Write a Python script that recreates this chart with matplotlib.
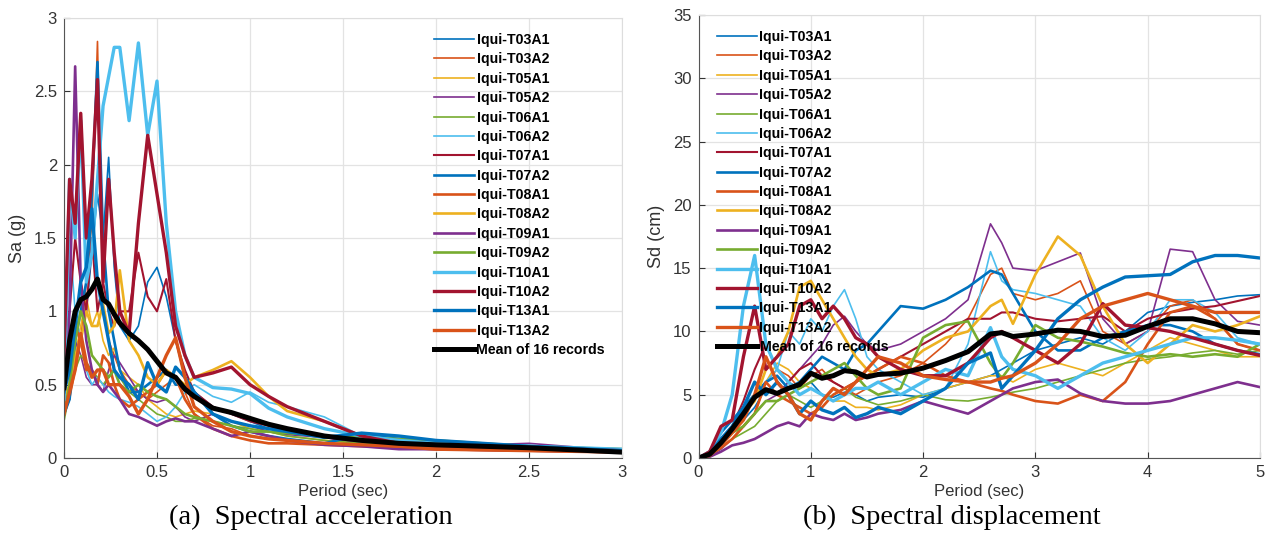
import numpy as np
import matplotlib
matplotlib.use("Agg")
import matplotlib.pyplot as plt

# names of the 16 records
records = ["Iqui-T03A1", "Iqui-T03A2", "Iqui-T05A1", "Iqui-T05A2", "Iqui-T06A1", "Iqui-T06A2",
           "Iqui-T07A1", "Iqui-T07A2", "Iqui-T08A1", "Iqui-T08A2", "Iqui-T09A1", "Iqui-T09A2",
           "Iqui-T10A1", "Iqui-T10A2", "Iqui-T13A1", "Iqui-T13A2"]

# ---- spectral acceleration (g) ----
T_sa = [0, .03, .06, .09, .12, .15, .18, .21, .24, .27, .30, .35, .40, .45, .50, .55, .60, .65, .70,
        .80, .90, 1.0, 1.1, 1.2, 1.4, 1.6, 1.8, 2.0, 2.5, 3.0]

sa_T03A1 = [0.35, 0.5, 0.9, 1.2, 1.0, 1.4, 1.8, 1.5, 2.05, 1.3, 0.9, 0.8, 0.9, 1.2, 1.3, 1.1, 0.8, 0.55, 0.45,
            0.35, 0.3, 0.25, 0.2, 0.18, 0.15, 0.16, 0.13, 0.11, 0.08, 0.05]
sa_T03A2 = [0.3, 0.4, 0.6, 0.8, 1.2, 1.6, 2.84, 1.0, 0.8, 0.7, 0.6, 0.5, 0.45, 0.4, 0.45, 0.5, 0.55, 0.45, 0.3,
            0.22, 0.2, 0.15, 0.13, 0.12, 0.1, 0.09, 0.08, 0.07, 0.06, 0.05]
sa_T05A1 = [0.4, 0.5, 0.7, 0.9, 1.1, 0.9, 1.0, 0.8, 0.7, 0.75, 0.6, 0.55, 0.5, 0.4, 0.35, 0.3, 0.28, 0.3, 0.32,
            0.3, 0.25, 0.2, 0.18, 0.15, 0.12, 0.1, 0.09, 0.08, 0.06, 0.05]
sa_T05A2 = [0.3, 0.45, 0.8, 0.7, 0.55, 0.5, 0.5, 0.45, 0.6, 0.7, 0.65, 0.55, 0.45, 0.4, 0.38, 0.4, 0.35, 0.28, 0.25,
            0.3, 0.25, 0.22, 0.18, 0.16, 0.14, 0.1, 0.09, 0.08, 0.1, 0.05]
sa_T06A1 = [0.25, 0.45, 0.6, 0.7, 0.65, 0.6, 0.55, 0.5, 0.55, 0.6, 0.55, 0.45, 0.4, 0.35, 0.3, 0.28, 0.25, 0.25, 0.27,
            0.25, 0.22, 0.2, 0.18, 0.15, 0.12, 0.1, 0.09, 0.08, 0.06, 0.05]
sa_T06A2 = [0.35, 1.5, 1.0, 0.8, 0.6, 0.5, 0.55, 0.5, 0.45, 0.42, 0.4, 0.38, 0.35, 0.3, 0.25, 0.28, 0.35, 0.45, 0.5,
            0.42, 0.38, 0.45, 0.38, 0.35, 0.28, 0.15, 0.12, 0.1, 0.07, 0.05]
sa_T07A1 = [0.8, 1.0, 1.5, 1.2, 1.0, 1.5, 1.0, 1.2, 1.0, 0.9, 1.0, 1.0, 1.4, 1.1, 1.0, 1.22, 0.8, 0.6, 0.45,
            0.35, 0.3, 0.25, 0.22, 0.18, 0.14, 0.12, 0.1, 0.08, 0.06, 0.05]
sa_T07A2 = [0.3, 0.4, 0.8, 1.0, 1.2, 1.8, 2.7, 1.5, 1.0, 0.8, 0.6, 0.45, 0.45, 0.5, 0.55, 0.6, 0.5, 0.5, 0.45,
            0.3, 0.22, 0.18, 0.15, 0.13, 0.1, 0.16, 0.13, 0.11, 0.07, 0.05]
sa_T08A1 = [0.3, 0.5, 0.9, 0.8, 0.6, 0.6, 0.5, 0.7, 0.65, 0.5, 0.4, 0.35, 0.4, 0.45, 0.5, 0.6, 0.55, 0.4, 0.3,
            0.2, 0.15, 0.12, 0.1, 0.1, 0.09, 0.08, 0.07, 0.06, 0.05, 0.04]
sa_T08A2 = [0.4, 0.5, 0.7, 0.8, 1.0, 0.9, 0.9, 1.05, 0.85, 0.9, 1.28, 0.8, 0.7, 0.55, 0.5, 0.6, 0.55, 0.5, 0.55,
            0.6, 0.66, 0.55, 0.42, 0.32, 0.25, 0.15, 0.12, 0.1, 0.07, 0.06]
sa_T09A1 = [0.4, 1.0, 2.67, 1.2, 0.8, 0.6, 0.5, 0.45, 0.5, 0.45, 0.4, 0.3, 0.28, 0.25, 0.22, 0.25, 0.27, 0.25, 0.25,
            0.2, 0.15, 0.18, 0.15, 0.12, 0.09, 0.08, 0.06, 0.06, 0.05, 0.04]
sa_T09A2 = [0.3, 0.5, 0.8, 1.0, 0.9, 0.7, 0.65, 0.6, 0.55, 0.6, 0.5, 0.45, 0.5, 0.45, 0.42, 0.4, 0.35, 0.3, 0.28,
            0.25, 0.22, 0.18, 0.18, 0.17, 0.15, 0.14, 0.13, 0.12, 0.08, 0.06]
sa_T10A1 = [0.4, 1.9, 1.5, 2.3, 1.2, 1.4, 1.9, 2.4, 2.6, 2.8, 2.8, 2.3, 2.83, 2.2, 2.57, 1.6, 1.0, 0.7, 0.55,
            0.48, 0.47, 0.44, 0.34, 0.28, 0.2, 0.15, 0.12, 0.1, 0.08, 0.06]
sa_T10A2 = [0.7, 1.9, 1.6, 2.35, 1.5, 1.9, 2.58, 1.2, 1.9, 1.4, 1.0, 0.85, 1.6, 2.2, 1.8, 1.4, 0.9, 0.7, 0.55,
            0.58, 0.62, 0.5, 0.42, 0.35, 0.25, 0.15, 0.1, 0.09, 0.07, 0.05]
sa_T13A1 = [0.45, 0.6, 0.9, 1.2, 1.3, 1.7, 1.2, 1.0, 0.8, 0.6, 0.55, 0.5, 0.4, 0.65, 0.5, 0.45, 0.62, 0.55, 0.45,
            0.3, 0.25, 0.22, 0.2, 0.18, 0.14, 0.17, 0.15, 0.12, 0.08, 0.05]
sa_T13A2 = [0.3, 0.45, 0.6, 0.85, 0.65, 0.55, 0.6, 0.6, 0.5, 0.5, 0.5, 0.42, 0.3, 0.4, 0.55, 0.7, 0.82, 0.55, 0.35,
            0.25, 0.18, 0.15, 0.13, 0.12, 0.1, 0.09, 0.08, 0.06, 0.05, 0.04]
sa_mean = [0.48, 0.8, 1.0, 1.08, 1.1, 1.15, 1.22, 1.08, 1.05, 0.98, 0.92, 0.85, 0.8, 0.74, 0.66, 0.58, 0.55, 0.47, 0.42,
           0.34, 0.31, 0.27, 0.23, 0.2, 0.15, 0.12, 0.1, 0.09, 0.07, 0.04]

# ---- spectral displacement (cm) ----
T_sd = [0, 0.1, 0.2, 0.3, 0.4, 0.5, 0.6, 0.7, 0.8, 0.9, 1.0, 1.1, 1.2, 1.3, 1.4, 1.5, 1.6, 1.8, 2.0, 2.2, 2.4,
        2.6, 2.7, 2.8, 3.0, 3.2, 3.4, 3.6, 3.8, 4.0, 4.2, 4.4, 4.6, 4.8, 5.0]

sd_T03A1 = [0, 0.3, 1.0, 2.0, 3.0, 4.0, 5.5, 5.0, 6.0, 5.5, 6.0, 5.0, 4.8, 5.2, 5.0, 4.5, 4.8, 5.0, 4.8, 5.5, 6.0,
            6.5, 7.0, 7.5, 8.5, 9.0, 9.5, 9.0, 10.0, 11.5, 12.0, 12.3, 12.5, 12.8, 12.9]
sd_T03A2 = [0, 0.2, 0.8, 1.5, 2.5, 3.5, 6.0, 7.0, 6.5, 5.5, 6.5, 7.0, 6.0, 5.5, 5.0, 5.5, 6.0, 6.5, 7.5, 9.0, 11.0,
            14.5, 15.0, 13.0, 12.5, 13.0, 14.0, 10.0, 9.0, 10.0, 12.0, 12.5, 11.0, 9.0, 8.5]
sd_T05A1 = [0, 0.3, 1.0, 2.0, 3.5, 5.0, 6.0, 7.5, 7.0, 6.0, 5.5, 5.0, 4.5, 4.5, 4.0, 4.0, 3.8, 4.2, 5.0, 5.5, 6.0,
            6.5, 6.5, 6.0, 7.0, 7.5, 7.0, 6.5, 7.5, 8.5, 9.5, 9.0, 8.5, 8.0, 8.0]
sd_T05A2 = [0, 0.2, 0.7, 1.5, 2.5, 3.5, 4.5, 5.0, 6.0, 7.0, 8.0, 9.0, 10.5, 11.2, 10.0, 9.0, 8.5, 9.0, 10.0, 11.0, 12.5,
            18.5, 17.0, 15.0, 14.8, 15.5, 16.2, 11.0, 9.0, 10.0, 16.5, 16.3, 12.5, 10.8, 10.5]
sd_T06A1 = [0, 0.2, 0.8, 1.5, 2.0, 2.5, 3.5, 4.5, 5.0, 4.5, 4.0, 4.5, 5.0, 5.5, 4.8, 4.5, 4.2, 4.5, 5.0, 4.6, 4.5,
            4.8, 5.0, 5.2, 5.5, 6.0, 6.5, 7.0, 7.5, 7.8, 8.0, 8.3, 8.5, 8.2, 8.5]
sd_T06A2 = [0, 0.3, 1.2, 2.5, 4.0, 5.0, 6.0, 7.0, 10.0, 9.0, 11.0, 10.0, 12.0, 13.3, 11.0, 8.0, 7.0, 6.0, 5.0, 5.5, 9.0,
            16.3, 14.0, 13.3, 13.0, 12.5, 12.0, 9.5, 8.5, 10.0, 12.5, 12.5, 11.5, 9.5, 9.0]
sd_T07A1 = [0, 0.3, 1.5, 2.5, 4.5, 7.0, 9.0, 7.0, 6.0, 7.0, 7.5, 6.5, 6.0, 5.5, 6.0, 6.5, 7.0, 8.0, 9.0, 10.0, 11.0,
            11.0, 11.5, 11.5, 11.0, 10.8, 11.0, 11.2, 10.0, 11.0, 11.5, 11.8, 12.0, 12.4, 12.8]
sd_T07A2 = [0, 0.5, 2.0, 3.0, 4.0, 5.0, 6.0, 6.5, 5.5, 6.0, 7.0, 8.0, 7.5, 7.0, 8.5, 9.0, 10.0, 12.0, 11.8, 12.5, 13.5,
            14.8, 14.5, 13.0, 10.0, 8.5, 8.5, 9.5, 10.0, 10.5, 10.5, 10.0, 9.0, 8.5, 8.2]
sd_T08A1 = [0, 0.2, 0.8, 1.5, 2.5, 3.5, 6.0, 5.0, 4.5, 4.0, 3.5, 4.0, 5.0, 5.5, 6.0, 6.5, 7.0, 8.0, 7.5, 6.5, 6.0,
            5.5, 5.3, 5.0, 4.5, 4.3, 5.0, 4.5, 6.0, 9.0, 11.5, 12.0, 11.0, 9.0, 8.5]
sd_T08A2 = [0, 0.3, 1.0, 2.5, 3.5, 4.5, 7.0, 8.0, 10.0, 13.5, 14.0, 12.5, 11.0, 9.5, 8.0, 7.0, 6.5, 7.0, 8.5, 9.5, 10.0,
            12.0, 12.5, 10.6, 14.5, 17.5, 16.0, 12.0, 9.0, 7.5, 9.0, 10.5, 10.0, 10.5, 11.2]
sd_T09A1 = [0, 0.1, 0.5, 1.0, 1.2, 1.5, 2.0, 2.5, 2.8, 2.5, 3.5, 3.2, 3.0, 3.5, 3.0, 3.2, 3.5, 3.8, 4.5, 4.0, 3.5,
            4.5, 5.0, 5.5, 6.0, 6.2, 5.1, 4.5, 4.3, 4.3, 4.5, 5.0, 5.5, 6.0, 5.6]
sd_T09A2 = [0, 0.2, 1.0, 2.0, 2.5, 3.5, 4.5, 4.5, 5.0, 5.5, 6.0, 6.5, 7.0, 7.5, 6.5, 5.5, 5.0, 5.5, 9.5, 10.5, 10.8,
            7.5, 6.3, 7.5, 10.5, 9.5, 9.2, 8.8, 8.3, 8.0, 8.2, 8.0, 8.2, 8.0, 9.0]
sd_T10A1 = [0, 0.5, 2.0, 5.0, 12.0, 16.0, 9.0, 7.0, 6.0, 5.0, 5.5, 5.0, 4.5, 5.0, 5.5, 5.5, 6.0, 5.0, 6.0, 7.0, 6.5,
            10.3, 8.0, 7.0, 6.5, 5.5, 6.5, 7.5, 8.0, 8.5, 9.0, 9.5, 9.5, 9.3, 9.0]
sd_T10A2 = [0, 0.5, 2.5, 3.0, 8.0, 12.0, 7.0, 8.0, 9.0, 12.0, 12.5, 11.0, 12.0, 11.0, 9.5, 9.0, 8.0, 7.0, 6.5, 6.5, 7.5,
            9.5, 10.0, 9.5, 8.5, 7.5, 9.0, 12.2, 10.5, 10.3, 10.0, 9.5, 9.0, 8.5, 8.1]
sd_T13A1 = [0, 0.3, 1.5, 2.5, 4.0, 6.0, 5.0, 6.0, 5.0, 3.5, 4.5, 3.8, 3.5, 4.0, 3.2, 3.5, 4.0, 3.5, 4.5, 5.5, 7.5,
            8.3, 5.5, 6.5, 8.5, 11.0, 12.5, 13.5, 14.3, 14.4, 14.5, 15.5, 16.0, 16.0, 15.8]
sd_T13A2 = [0, 0.2, 1.0, 2.0, 3.0, 5.0, 8.0, 6.0, 5.0, 3.5, 3.0, 4.5, 5.5, 5.0, 6.0, 7.0, 8.0, 7.5, 6.5, 6.2, 6.0,
            6.0, 6.3, 6.5, 7.5, 9.0, 11.0, 12.0, 12.5, 13.0, 12.5, 12.0, 11.5, 11.5, 11.5]
sd_mean = [0, 0.3, 1.2, 2.3, 3.5, 4.8, 5.4, 5.1, 5.5, 5.8, 6.7, 6.3, 6.5, 6.9, 6.8, 6.4, 6.6, 6.7, 7.1, 7.7, 8.4,
           9.8, 9.9, 9.6, 9.8, 10.1, 10.0, 9.6, 9.7, 10.4, 11.0, 11.0, 10.6, 10.0, 9.9]

sa_all = [sa_T03A1, sa_T03A2, sa_T05A1, sa_T05A2, sa_T06A1, sa_T06A2, sa_T07A1, sa_T07A2,
          sa_T08A1, sa_T08A2, sa_T09A1, sa_T09A2, sa_T10A1, sa_T10A2, sa_T13A1, sa_T13A2]
sd_all = [sd_T03A1, sd_T03A2, sd_T05A1, sd_T05A2, sd_T06A1, sd_T06A2, sd_T07A1, sd_T07A2,
          sd_T08A1, sd_T08A2, sd_T09A1, sd_T09A2, sd_T10A1, sd_T10A2, sd_T13A1, sd_T13A2]

# matlab default colour order
colors = ["#0072BD", "#D95319", "#EDB120", "#7E2F8E", "#77AC30", "#4DBEEE", "#A2142F"]
widths = [1.2] * 6 + [1.5] + [1.9] * 5 + [2.4] * 4

plt.rcParams['font.family'] = ['Liberation Sans', 'DejaVu Sans']

fig = plt.figure(figsize=(12.7, 5.53), dpi=100)
ax1 = fig.add_axes([64 / 1270, 1 - 458 / 553, 558 / 1270, 440 / 553])
ax2 = fig.add_axes([698.5 / 1270, 1 - 458 / 553, 561.5 / 1270, 443 / 553])


def draw(ax, T, data, mean, ylim, yticks, xlim, xticks, ylabel, leg_anchor):
    for i, y in enumerate(data):
        ax.plot(T, y, color=colors[i % 7], lw=widths[i], label=records[i])
    ax.plot(T, mean, color="black", lw=3.6, label="Mean of 16 records")
    ax.set_xlim(xlim)
    ax.set_ylim(ylim)
    ax.set_xticks(xticks)
    ax.set_yticks(yticks)
    ax.set_xticklabels([f"{v:g}" for v in xticks])
    ax.set_yticklabels([f"{v:g}" for v in yticks])
    ax.grid(True, color="#e3e3e3", lw=0.9)
    ax.set_axisbelow(True)
    ax.tick_params(direction="in", length=4, labelsize=12, colors="#333333", pad=5)
    for s in ["left", "bottom"]:
        ax.spines[s].set_color("#555555")
    for s in ["top", "right"]:
        ax.spines[s].set_color("#dddddd")
    ax.set_xlabel("Period (sec)", fontsize=12, color="#333333", labelpad=3)
    ax.set_ylabel(ylabel, fontsize=13, color="#333333", labelpad=6)
    ax.legend(loc="upper left", bbox_to_anchor=leg_anchor, bbox_transform=fig.transFigure,
              frameon=False, prop={"weight": "bold", "size": 10.2}, handlelength=2.8,
              handletextpad=0.2, labelspacing=0.38, borderpad=0, borderaxespad=0)


draw(ax1, T_sa, sa_all, sa_mean, (0, 3), [0, 0.5, 1, 1.5, 2, 2.5, 3], (0, 3),
     [0, 0.5, 1, 1.5, 2, 2.5, 3], "Sa (g)", (434 / 1270, 1 - 33 / 553))
draw(ax2, T_sd, sd_all, sd_mean, (0, 35), [0, 5, 10, 15, 20, 25, 30, 35], (0, 5),
     [0, 1, 2, 3, 4, 5], "Sd (cm)", (717 / 1270, 1 - 30 / 553))

fig.text(311 / 1270, 1 - 517 / 553, "(a)  Spectral acceleration", ha="center", va="center",
         fontsize=20.5, family="Liberation Serif")
fig.text(952 / 1270, 1 - 517 / 553, "(b)  Spectral displacement", ha="center", va="center",
         fontsize=20.5, family="Liberation Serif")

fig.savefig("out.png", dpi=100)
